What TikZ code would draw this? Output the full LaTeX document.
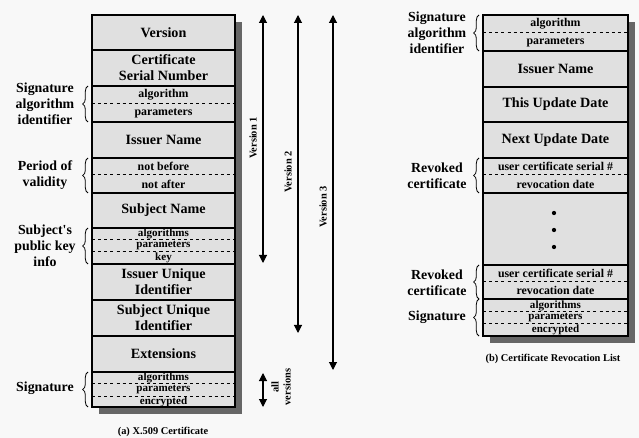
\documentclass[tikz,border=0pt]{standalone}
\usepackage{fontspec}
\setmainfont{Liberation Serif}
\usetikzlibrary{arrows.meta,decorations.pathreplacing}
\definecolor{pagebg}{RGB}{248,248,248}
\definecolor{cellgray}{RGB}{224,224,224}
\definecolor{shadegray}{RGB}{102,102,102}
\tikzset{
  bigtxt/.style={font=\fontsize{10.6}{12}\selectfont\bfseries, align=center, inner sep=0pt},
  midtxt/.style={font=\fontsize{8.9}{10}\selectfont\bfseries, inner sep=0pt},
  smalltxt/.style={font=\fontsize{8.3}{9}\selectfont\bfseries, inner sep=0pt},
  sidetxt/.style={font=\fontsize{10.4}{12}\selectfont\bfseries, align=center, inner sep=0pt},
  tinytxt/.style={font=\fontsize{7.8}{9}\selectfont\bfseries, align=center, inner sep=0pt},
  cellbox/.style={fill=cellgray, draw=black, line width=1.8pt},
  dropshadow/.style={fill=shadegray},
  hsep/.style={line width=1.6pt},
  dsep/.style={line width=0.75pt, dash pattern=on 2.3pt off 2.3pt},
  curly/.style={decorate, decoration={brace, amplitude=4pt}, line width=0.6pt},
  vspan/.style={{Triangle[width=6pt,length=6pt]}-{Triangle[width=6pt,length=6pt]}, line width=0.8pt},
}

\begin{document}
\begin{tikzpicture}[x=0.75pt,y=-0.75pt]
    \fill[pagebg] (0,0) rectangle (639,438);
    \useasboundingbox (0,0) rectangle (639,438);

    % (a) X.509 certificate
    \fill[dropshadow] (99,22) rectangle (242,414);
    \filldraw[cellbox] (92,15) rectangle (235,407);
    \foreach \y in {50,86,122,158,193,228,264,300,336,372}
      \draw[hsep] (92,\y) -- (235,\y);
    \foreach \y in {104,175,240,252,383,396}
      \draw[dsep] (92,\y) -- (235,\y);

    \node[bigtxt] (ver) at (163.5,32.5) {Version};
    \node[bigtxt] (serial) at (163.5,68) {Certificate\\Serial Number};
    \node[midtxt] (salg) at (163.5,95) {algorithm};
    \node[midtxt] (spar) at (163.5,113) {parameters};
    \node[bigtxt] (issuer) at (163.5,140) {Issuer Name};
    \node[midtxt] (nbefore) at (163.5,166.5) {not before};
    \node[midtxt] (nafter) at (163.5,184) {not after};
    \node[bigtxt] (subject) at (163.5,210.5) {Subject Name};
    \node[smalltxt] (kalg) at (163.5,234) {algorithms};
    \node[smalltxt] (kpar) at (163.5,246) {parameters};
    \node[smalltxt] (kkey) at (163.5,258) {key};
    \node[bigtxt] (iuid) at (163.5,282) {Issuer Unique\\Identifier};
    \node[bigtxt] (suid) at (163.5,318) {Subject Unique\\Identifier};
    \node[bigtxt] (ext) at (163.5,354) {Extensions};
    \node[smalltxt] (galg) at (163.5,377.5) {algorithms};
    \node[smalltxt] (gpar) at (163.5,389.5) {parameters};
    \node[smalltxt] (genc) at (163.5,401.5) {encrypted};

    \draw[curly] (88,122) -- (88,86);
    \draw[curly] (88,193) -- (88,158);
    \draw[curly] (88,264) -- (88,228);
    \draw[curly] (88,407) -- (88,372);
    \node[sidetxt] (sigid) at (45,104) {Signature\\algorithm\\identifier};
    \node[sidetxt] (period) at (45,175) {Period of\\validity};
    \node[sidetxt] (pkinfo) at (45,246) {Subject\textquotesingle s\\public key\\info};
    \node[sidetxt] (sig) at (45,388) {Signature};

    \node[tinytxt] (capa) at (163,432) {(a) X.509 Certificate};

    % version spans
    \coordinate (v1top) at (263,15);
    \coordinate (v1bot) at (263,263);
    \coordinate (v2top) at (298,15);
    \coordinate (v2bot) at (298,333);
    \coordinate (v3top) at (333,15);
    \coordinate (v3bot) at (333,370);
    \coordinate (alltop) at (263,373);
    \coordinate (allbot) at (263,407);
    \draw[vspan] (v1top) -- (v1bot);
    \draw[vspan] (v2top) -- (v2bot);
    \draw[vspan] (v3top) -- (v3bot);
    \draw[vspan] (alltop) -- (allbot);
    \node[tinytxt, rotate=90] (v1lbl) at (253,138) {Version 1};
    \node[tinytxt, rotate=90] (v2lbl) at (288,172) {Version 2};
    \node[tinytxt, rotate=90] (v3lbl) at (323,207) {Version 3};
    \node[tinytxt, rotate=90] (alllbl) at (281,387) {all\\versions};

    % (b) certificate revocation list
    \fill[dropshadow] (490,22) rectangle (635,343);
    \filldraw[cellbox] (483,15) rectangle (628,336);
    \foreach \y in {51,87,122,158,193,265,299}
      \draw[hsep] (483,\y) -- (628,\y);
    \foreach \y in {33,175,282,312,324}
      \draw[dsep] (483,\y) -- (628,\y);

    \node[midtxt] (calg) at (555.5,24) {algorithm};
    \node[midtxt] (cpar) at (555.5,42) {parameters};
    \node[bigtxt] (cissuer) at (555.5,69) {Issuer Name};
    \node[bigtxt] (thisupd) at (555.5,104.5) {This Update Date};
    \node[bigtxt] (nextupd) at (555.5,140) {Next Update Date};
    \node[midtxt] (userA) at (555.5,166.5) {user certificate serial \#};
    \node[midtxt] (revA) at (555.5,184) {revocation date};
    \foreach \y in {213,230,247}
      \fill (554,\y) circle[radius=1.6pt];
    \node[midtxt] (userB) at (555.5,273.5) {user certificate serial \#};
    \node[midtxt] (revB) at (555.5,290.5) {revocation date};
    \node[smalltxt] (calgs) at (555.5,305.5) {algorithms};
    \node[smalltxt] (cpars) at (555.5,318) {parameters};
    \node[smalltxt] (cenc) at (555.5,330) {encrypted};

    \draw[curly] (479,51) -- (479,15);
    \draw[curly] (479,193) -- (479,158);
    \draw[curly] (479,299) -- (479,265);
    \draw[curly] (479,336) -- (479,299);
    \node[sidetxt] (csigid) at (437,33) {Signature\\algorithm\\identifier};
    \node[sidetxt] (revokedA) at (437,176) {Revoked\\certificate};
    \node[sidetxt] (revokedB) at (437,283) {Revoked\\certificate};
    \node[sidetxt] (csig) at (437,317) {Signature};

    \node[tinytxt] (capb) at (553,359) {(b) Certificate Revocation List};
\end{tikzpicture}
\end{document}
